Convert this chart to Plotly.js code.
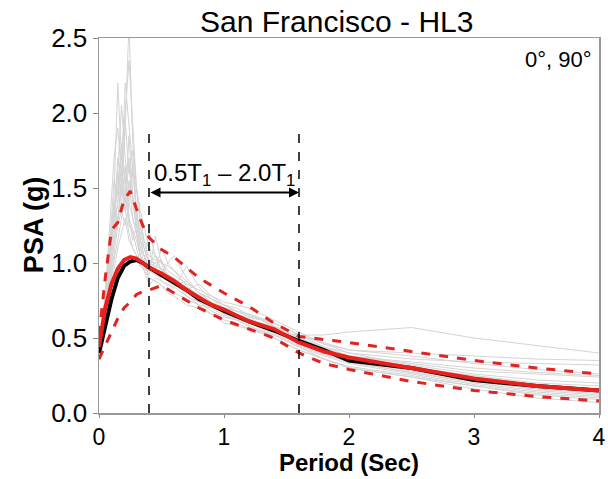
<!DOCTYPE html>
<html><head><meta charset="utf-8">
<script src="https://cdn.plot.ly/plotly-3.0.1.min.js"></script>
<style>body{margin:0;padding:0;background:#fff}#chart{width:608px;height:479px}</style>
</head><body><div id="chart"></div>
<script>
// Period grid for individual record spectra (s)
const periodsRec = [0,0.03,0.06,0.09,0.12,0.15,0.18,0.21,0.24,0.27,0.30,0.33,0.36,0.40,0.45,0.5,0.55,0.6,0.7,0.8,0.9,1.0,1.1,1.2,1.3,1.4,1.5,1.6,1.8,2.0,2.5,3.0,3.5,4.0];
// Individual ground-motion spectra (g)
const rec01 = [0.40,0.55,0.80,1.10,1.35,1.60,1.45,1.90,2.60,1.80,1.50,1.30,1.15,1.02,1.00,0.96,0.90,0.86,0.80,0.76,0.72,0.68,0.66,0.62,0.58,0.55,0.52,0.48,0.42,0.37,0.30,0.24,0.19,0.16];
const rec02 = [0.36,0.48,0.70,1.00,1.45,2.20,1.70,1.55,1.40,1.65,1.30,1.15,1.05,0.98,1.05,0.95,0.92,0.90,0.84,0.78,0.72,0.66,0.63,0.60,0.56,0.53,0.49,0.45,0.39,0.34,0.27,0.21,0.16,0.13];
const rec03 = [0.42,0.56,0.78,1.05,1.25,1.40,1.75,1.55,1.70,1.45,1.20,1.10,1.00,0.92,1.18,1.00,0.88,0.85,0.88,0.80,0.76,0.72,0.68,0.66,0.63,0.60,0.56,0.52,0.47,0.42,0.38,0.33,0.29,0.26];
const rec04 = [0.38,0.50,0.68,0.90,1.15,1.30,1.55,1.95,1.60,1.75,1.35,1.15,1.05,0.98,0.95,1.10,1.00,0.95,0.85,0.78,0.74,0.70,0.66,0.62,0.60,0.58,0.54,0.50,0.43,0.38,0.34,0.30,0.27,0.25];
const rec05 = [0.44,0.60,0.88,1.20,1.40,1.25,1.50,1.35,1.55,1.30,1.20,1.05,0.98,0.90,0.88,0.85,0.82,0.80,0.76,0.72,0.70,0.65,0.62,0.60,0.58,0.55,0.53,0.52,0.52,0.54,0.57,0.50,0.45,0.40];
const rec06 = [0.35,0.45,0.60,0.78,0.95,1.10,1.20,1.30,1.15,1.10,1.05,0.98,1.00,1.22,1.05,0.95,0.92,0.90,0.80,0.74,0.68,0.64,0.62,0.58,0.55,0.52,0.48,0.44,0.38,0.33,0.26,0.19,0.14,0.11];
const rec07 = [0.40,0.54,0.75,1.00,1.30,1.60,2.05,1.70,1.45,1.60,1.50,1.25,1.10,1.00,0.95,0.92,1.00,1.05,0.90,0.80,0.74,0.68,0.66,0.63,0.60,0.56,0.50,0.46,0.40,0.35,0.28,0.22,0.17,0.15];
const rec08 = [0.37,0.50,0.66,0.85,1.02,1.15,1.30,1.45,1.25,1.20,1.10,1.00,0.95,0.90,0.88,0.85,0.80,0.78,0.72,0.70,0.66,0.62,0.60,0.56,0.54,0.52,0.48,0.44,0.36,0.30,0.24,0.16,0.10,0.07];
const rec09 = [0.43,0.60,0.86,1.10,1.30,1.70,1.55,1.40,1.85,1.45,1.30,1.15,1.10,1.05,1.02,1.00,0.95,0.92,0.86,0.82,0.78,0.74,0.72,0.70,0.66,0.62,0.58,0.54,0.46,0.40,0.32,0.26,0.22,0.20];
const rec10 = [0.39,0.52,0.70,0.92,1.12,1.30,1.40,1.65,1.30,1.15,1.25,1.30,1.15,1.10,0.95,0.88,0.85,0.83,0.98,0.84,0.76,0.70,0.68,0.64,0.62,0.58,0.54,0.50,0.42,0.36,0.30,0.25,0.20,0.18];
const rec11 = [0.41,0.58,0.80,1.15,1.55,1.45,1.60,1.45,1.65,1.40,1.25,1.10,1.05,0.95,1.00,1.02,0.92,0.88,0.78,0.74,0.70,0.68,0.62,0.58,0.54,0.50,0.46,0.42,0.36,0.31,0.25,0.18,0.12,0.09];
const rec12 = [0.38,0.52,0.74,0.98,1.20,1.40,1.55,1.35,1.20,1.10,1.05,0.98,0.96,0.95,0.92,0.90,0.88,0.85,0.82,0.86,0.78,0.72,0.68,0.64,0.62,0.60,0.56,0.52,0.44,0.40,0.36,0.34,0.33,0.32];
const rec13 = [0.42,0.62,0.92,1.30,1.70,1.90,1.60,2.20,1.90,1.60,1.35,1.20,1.10,1.00,0.98,0.96,0.92,0.88,0.80,0.76,0.72,0.66,0.64,0.62,0.58,0.54,0.50,0.48,0.40,0.34,0.27,0.20,0.15,0.12];
const rec14 = [0.36,0.48,0.66,0.86,1.05,1.25,1.35,1.25,1.40,1.30,1.20,1.05,0.95,0.85,0.90,0.88,0.86,0.84,0.78,0.72,0.66,0.60,0.58,0.56,0.53,0.50,0.46,0.42,0.36,0.30,0.24,0.18,0.13,0.10];
const rec15 = [0.40,0.56,0.78,1.05,1.30,1.50,1.80,1.50,1.30,1.22,1.15,1.05,1.00,0.96,0.94,0.92,0.89,0.86,0.80,0.75,0.72,0.70,0.68,0.66,0.62,0.58,0.54,0.50,0.44,0.38,0.33,0.28,0.26,0.24];
const rec16 = [0.44,0.60,0.85,1.10,1.35,1.50,1.75,2.00,2.35,1.95,1.50,1.35,1.25,1.10,1.05,1.00,0.98,0.95,0.88,0.80,0.76,0.72,0.70,0.65,0.63,0.60,0.56,0.52,0.46,0.42,0.40,0.38,0.36,0.35];
const records = [rec01,rec02,rec03,rec04,rec05,rec06,rec07,rec08,rec09,rec10,rec11,rec12,rec13,rec14,rec15,rec16];

// Period grid for summary spectra (s)
const periodsSum = [0,0.05,0.1,0.15,0.2,0.25,0.3,0.35,0.4,0.5,0.6,0.7,0.8,0.9,1.0,1.2,1.4,1.6,1.8,2.0,2.5,3.0,3.5,4.0];
const meanRec  = [0.40,0.58,0.76,0.90,0.98,1.01,1.02,1.00,0.97,0.92,0.87,0.82,0.76,0.72,0.68,0.61,0.55,0.48,0.42,0.35,0.30,0.22,0.18,0.15];
const target   = [0.44,0.70,0.86,0.96,1.02,1.04,1.03,1.00,0.97,0.93,0.88,0.82,0.77,0.72,0.69,0.61,0.56,0.47,0.41,0.37,0.30,0.23,0.18,0.15];
const upperB   = [0.52,0.90,1.22,1.27,1.42,1.48,1.36,1.25,1.17,1.09,1.04,0.97,0.90,0.85,0.80,0.71,0.60,0.51,0.49,0.47,0.41,0.35,0.30,0.26];
const lowerB   = [0.36,0.45,0.55,0.63,0.70,0.74,0.79,0.81,0.82,0.85,0.80,0.75,0.70,0.66,0.62,0.56,0.50,0.40,0.33,0.29,0.21,0.15,0.11,0.08];

const rangeT = [0.4, 1.6];     // 0.5T1 and 2.0T1
const rangeTop = 1.9;
const arrowY = 1.47;
const titleText = 'San Francisco - HL3';
const xTitle = 'Period (Sec)';
const yTitle = 'PSA (g)';
const rangeLabel = '0.5T<sub>1</sub> – 2.0T<sub>1</sub>';
const cornerLabel = '0°, 90°';

const FONT = 'Arial, "Liberation Sans", sans-serif';
const traces = [];
records.forEach(r => traces.push({x: periodsRec, y: r, mode: 'lines', line: {color: '#d4d4d4', width: 1}, hoverinfo: 'skip'}));
traces.push({x: periodsSum, y: meanRec, mode: 'lines', line: {color: '#000000', width: 4}});
traces.push({x: periodsSum, y: target, mode: 'lines', line: {color: '#e8201c', width: 4}});
traces.push({x: periodsSum, y: upperB, mode: 'lines', line: {color: '#e02424', width: 3, dash: 'dash'}});
traces.push({x: periodsSum, y: lowerB, mode: 'lines', line: {color: '#e02424', width: 3, dash: 'dash'}});

const layout = {
  width: 608, height: 479,
  margin: {l: 99, r: 9, t: 38, b: 66},
  paper_bgcolor: '#fff', plot_bgcolor: '#fff',
  showlegend: false,
  font: {family: FONT, color: '#000'},
  xaxis: {range: [0, 4], tickvals: [0,1,2,3,4], ticks: 'outside', ticklen: 3, tickcolor: '#888',
          showgrid: false, zeroline: false, showline: true, linecolor: '#999', linewidth: 1.5, mirror: true,
          tickfont: {family: FONT, size: 23}},
  yaxis: {range: [0, 2.5], tickvals: [0,0.5,1,1.5,2,2.5], ticktext: ['0.0','0.5','1.0','1.5','2.0','2.5'],
          ticks: 'outside', ticklen: 5, tickcolor: '#888',
          showgrid: false, zeroline: false, showline: true, linecolor: '#999', linewidth: 1.5, mirror: true,
          tickfont: {family: FONT, size: 26}},
  shapes: rangeT.map(t => ({type: 'line', xref: 'x', yref: 'y', x0: t, x1: t, y0: 0, y1: rangeTop,
                            line: {color: '#000', width: 1.5, dash: 'dash'}})),
  annotations: [
    {x: 0.474, y: 1.045, xref: 'paper', yref: 'paper', text: titleText, showarrow: false,
     font: {family: FONT, size: 30, color: '#000'}, xanchor: 'center', yanchor: 'middle'},
    {x: 0.5, y: -0.133, xref: 'paper', yref: 'paper', text: '<b>' + xTitle + '</b>', showarrow: false, borderpad: 0,
     font: {family: FONT, size: 24, color: '#000'}, xanchor: 'center', yanchor: 'middle'},
    {x: -0.13, y: 0.501, xref: 'paper', yref: 'paper', text: '<b>' + yTitle + '</b>', showarrow: false, textangle: -90,
     font: {family: FONT, size: 27, color: '#000'}, xanchor: 'center', yanchor: 'middle'},
    {x: rangeT[1], y: arrowY, ax: rangeT[0], ay: arrowY, xref: 'x', yref: 'y', axref: 'x', ayref: 'y',
     text: '', showarrow: true, arrowhead: 2, arrowside: 'end+start', arrowsize: 1, arrowwidth: 2, arrowcolor: '#000'},
    {x: (rangeT[0] + rangeT[1]) / 2, y: 1.59, xref: 'x', yref: 'y', text: rangeLabel, showarrow: false,
     font: {family: FONT, size: 24, color: '#000'}, xanchor: 'center', yanchor: 'middle'},
    {x: 0.99, y: 0.943, xref: 'paper', yref: 'paper', text: cornerLabel, showarrow: false,
     font: {family: FONT, size: 22, color: '#000'}, xanchor: 'right', yanchor: 'middle'}
  ]
};
Plotly.newPlot('chart', traces, layout, {displayModeBar: false, staticPlot: true});
</script></body></html>
